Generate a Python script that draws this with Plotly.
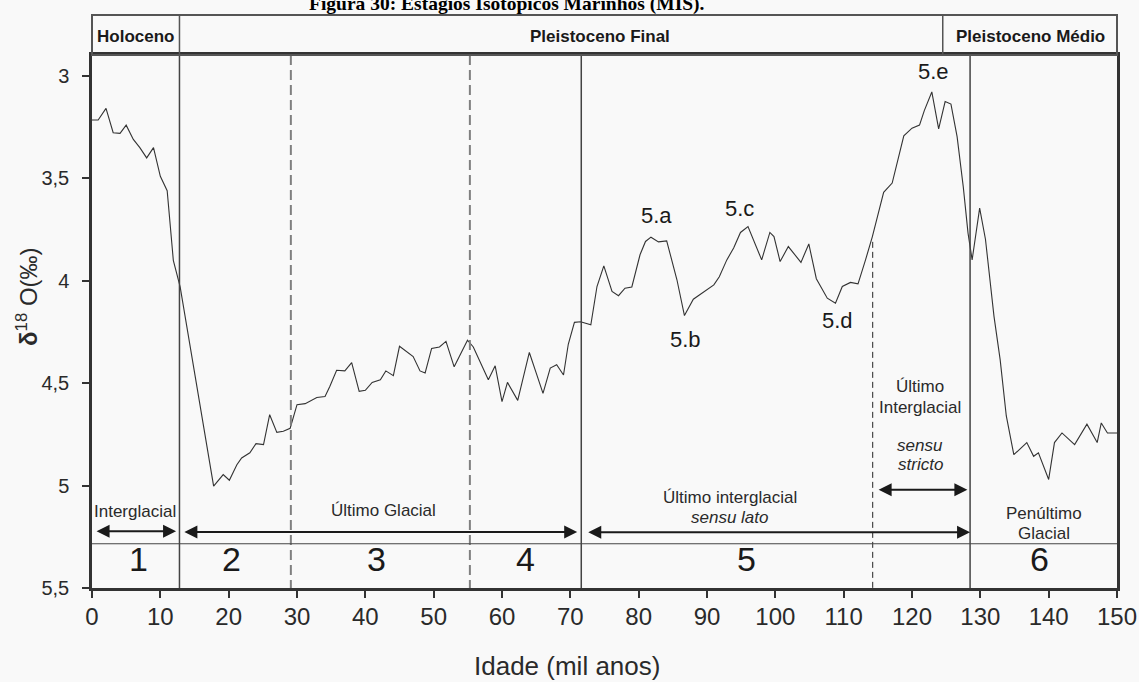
import plotly.graph_objects as go

# ---------------- data ----------------
age = [0, 0.9, 2.05, 3.1, 4.1, 5.0, 6.05, 7.0, 8.0, 9.0, 10.0, 11.0, 11.9, 12.9,
       17.8, 19.2, 20.1, 21.2, 21.9, 23.1, 24.0, 25.1, 26.0, 27.05, 28.0, 29.0,
       30.0, 31.2, 32.9, 34.1, 34.8, 35.8, 37.0, 38.0, 39.1, 40.0, 41.0, 42.2,
       43.0, 44.1, 45.0, 47.0, 48.0, 48.75, 49.7, 50.85, 51.8, 53.0, 54.95, 55.8,
       58.0, 59.0, 60.0, 60.8, 62.3, 64.0, 65.0, 66.0, 67.06, 68.0, 69.0, 69.7,
       70.6, 71.5, 73.0, 73.9, 74.9, 76.1, 77.05, 78.0, 79.0, 80.2, 81.0, 81.8,
       82.9, 84.1, 85.6, 86.7, 88.0, 89.5, 91.0, 91.8, 92.9, 93.9, 94.9, 96.0,
       96.9, 98.0, 99.2, 99.8, 100.7, 101.9, 103.75, 104.9, 106.0, 107.6, 108.8,
       109.8, 111.0, 112.1, 113.2, 114.2, 115.85, 117.1, 118.8, 120.0, 121.1,
       121.8, 122.9, 123.9, 124.85, 125.7, 126.6, 127.5, 128.2, 128.8, 129.9,
       130.75, 132.0, 132.9, 133.8, 134.9, 136.8, 137.8, 138.5, 140.0, 140.85,
       141.95, 143.8, 145.6, 147.1, 147.7, 148.6, 150.0]
d18o = [3.215, 3.215, 3.158, 3.277, 3.28, 3.24, 3.31, 3.35, 3.40, 3.35, 3.49, 3.56, 3.90, 4.03,
        5.003, 4.946, 4.974, 4.898, 4.865, 4.84, 4.795, 4.80, 4.654, 4.74, 4.735, 4.72,
        4.605, 4.60, 4.57, 4.565, 4.516, 4.437, 4.44, 4.40, 4.54, 4.535, 4.496, 4.483,
        4.44, 4.463, 4.32, 4.37, 4.44, 4.45, 4.33, 4.323, 4.296, 4.42, 4.29, 4.323,
        4.483, 4.415, 4.59, 4.496, 4.584, 4.35, 4.45, 4.55, 4.426, 4.41, 4.46, 4.31,
        4.203, 4.20, 4.215, 4.028, 3.927, 4.052, 4.073, 4.036, 4.03, 3.873, 3.808, 3.787,
        3.81, 3.805, 3.995, 4.17, 4.09, 4.057, 4.02, 3.98, 3.898, 3.84, 3.764, 3.735,
        3.808, 3.898, 3.764, 3.784, 3.906, 3.833, 3.91, 3.82, 3.99, 4.085, 4.11,
        4.028, 4.008, 4.015, 3.898, 3.784, 3.568, 3.523, 3.292, 3.255, 3.24,
        3.169, 3.078, 3.258, 3.125, 3.137, 3.296, 3.54, 3.767, 3.898, 3.645,
        3.797, 4.174, 4.385, 4.66, 4.849, 4.79, 4.857, 4.84, 4.97, 4.79,
        4.743, 4.80, 4.70, 4.79, 4.694, 4.743, 4.743]

x_ticks = [0, 10, 20, 30, 40, 50, 60, 70, 80, 90, 100, 110, 120, 130, 140, 150]
y_ticks = [3, 3.5, 4, 4.5, 5, 5.5]
y_ticktext = ["3", "3,5", "4", "4,5", "5", "5,5"]

# MIS stage numbers and their centre ages
stage_labels = ["1", "2", "3", "4", "5", "6"]
stage_centres = [6.8, 20.4, 41.7, 63.4, 95.8, 138.6]

# boundaries (ka)
solid_bounds = [12.8, 71.6, 128.5]
dashed_bounds = [29.1, 55.3]
substage_bound = 114.25

# substage peaks labels
sub_labels = ["5.a", "5.b", "5.c", "5.d", "5.e"]
sub_x = [82.65, 86.8, 94.75, 109.1, 123.2]
sub_y = [3.683, 4.288, 3.649, 4.194, 2.979]

# epochs header
epoch_names = ["Holoceno", "Pleistoceno Final", "Pleistoceno Médio"]
epoch_centres = [6.4, 74.3, 137.4]
epoch_divs = [12.8, 124.5]

TITLE = "Figura 30: Estágios Isotópicos Marinhos (MIS)."

# ---------------- figure ----------------
Y_TOP = 2.8976
Y_BOT = 5.5
W, H = 1139, 682
ML, MR, MT, MB = 92, 22, 55, 94
PH = H - MT - MB
PW = W - ML - MR

FONT = "Liberation Sans, Arial, sans-serif"
TXT = "#2a2a2a"

fig = go.Figure()
fig.add_trace(go.Scatter(x=age, y=d18o, mode="lines",
                         line=dict(color="#333333", width=1.1),
                         hoverinfo="skip", showlegend=False))

shapes = []
for b in solid_bounds:
    shapes.append(dict(type="line", xref="x", yref="y", x0=b, x1=b, y0=Y_TOP, y1=Y_BOT,
                       line=dict(color="#444444", width=1.5)))
for b in dashed_bounds:
    shapes.append(dict(type="line", xref="x", yref="y", x0=b, x1=b, y0=Y_TOP, y1=Y_BOT,
                       line=dict(color="#808080", width=2, dash="10px,5px")))
shapes.append(dict(type="line", xref="x", yref="y", x0=substage_bound, x1=substage_bound,
                   y0=3.81, y1=Y_BOT, line=dict(color="#222222", width=1, dash="6px,4px")))
shapes.append(dict(type="line", xref="x", yref="y", x0=0, x1=150, y0=5.284, y1=5.284,
                   line=dict(color="#444444", width=1.2)))
hdr_top = 1 + 40 / PH
shapes.append(dict(type="rect", xref="paper", yref="paper", x0=0, x1=1, y0=1, y1=hdr_top,
                   line=dict(color="#555555", width=2), fillcolor="rgba(0,0,0,0)"))
for d in epoch_divs:
    shapes.append(dict(type="line", xref="x", yref="paper", x0=d, x1=d, y0=1, y1=hdr_top,
                       line=dict(color="#555555", width=1.5)))

ann = []
for name, c in zip(epoch_names, epoch_centres):
    ann.append(dict(x=c, y=1 + 18 / PH, xref="x", yref="paper", text=f"<b>{name}</b>",
                    showarrow=False, font=dict(family=FONT, size=17, color="#1a1a1a"),
                    xanchor="center", yanchor="middle"))
ann.append(dict(x=(507 - ML) / PW, y=1 + (MT - 4) / PH, xref="paper", yref="paper",
                text=f"<b>{TITLE}</b>", showarrow=False,
                font=dict(family="Liberation Serif, Times New Roman, serif", size=19.5, color="#000"),
                xanchor="center", yanchor="middle"))
for lab, c in zip(stage_labels, stage_centres):
    ann.append(dict(x=c, y=5.36, xref="x", yref="y", text=lab, showarrow=False,
                    font=dict(family=FONT, size=34, color="#1a1a1a"),
                    xanchor="center", yanchor="middle"))
for lab, sx, sy in zip(sub_labels, sub_x, sub_y):
    ann.append(dict(x=sx, y=sy, xref="x", yref="y", text=lab, showarrow=False,
                    font=dict(family=FONT, size=22, color="#1a1a1a"),
                    xanchor="center", yanchor="middle"))

def label(x, y, t, size=17):
    ann.append(dict(x=x, y=y, xref="x", yref="y", text=t, showarrow=False,
                    font=dict(family=FONT, size=size, color=TXT),
                    xanchor="center", yanchor="middle"))

def arrow(x0, x1, y):
    ann.append(dict(x=x1, y=y, ax=x0, ay=y, xref="x", yref="y", axref="x", ayref="y",
                    text="", showarrow=True, arrowhead=2, arrowside="end+start",
                    arrowsize=1.3, arrowwidth=2, arrowcolor="#1a1a1a",
                    standoff=0, startstandoff=0))

label(6.3, 5.125, "Interglacial")
arrow(0.45, 12.3, 5.223)
label(42.6, 5.122, "Último Glacial")
arrow(13.3, 71.0, 5.226)
label(93.4, 5.06, "Último interglacial")
label(93.4, 5.158, "<i>sensu lato</i>")
arrow(72.4, 128.5, 5.228)
label(121.2, 4.516, "Último")
label(121.2, 4.618, "Interglacial")
label(121.2, 4.805, "<i>sensu</i>")
label(121.2, 4.898, "<i>stricto</i>")
arrow(114.9, 128.1, 5.02)
label(139.3, 5.137, "Penúltimo")
label(139.3, 5.234, "Glacial")

ann.append(dict(x=(567 - ML) / PW, y=-(666 - (H - MB)) / PH, xref="paper", yref="paper",
                text="Idade (mil anos)", showarrow=False,
                font=dict(family=FONT, size=26, color=TXT), xanchor="center", yanchor="middle"))
ann.append(dict(x=(27 - ML) / PW, y=((H - MB) - 297) / PH, xref="paper", yref="paper",
                text="<b>δ</b><sup>18</sup> O(‰)", showarrow=False, textangle=-90,
                font=dict(family=FONT, size=24, color=TXT), xanchor="center", yanchor="middle"))

fig.update_layout(
    width=W, height=H,
    margin=dict(l=ML, r=MR, t=MT, b=MB, pad=0),
    paper_bgcolor="#f9f9f9", plot_bgcolor="#f9f9f9",
    shapes=shapes, annotations=ann, showlegend=False,
)
fig.update_xaxes(range=[0, 150], tickvals=x_ticks, ticks="outside", ticklen=7, tickwidth=1.5,
                 tickcolor="#333", showgrid=False, zeroline=False, showline=True,
                 linecolor="#333", linewidth=2.5, mirror=True,
                 tickfont=dict(family=FONT, size=24, color=TXT), ticklabelstandoff=-2,
                 automargin=False)
fig.update_yaxes(range=[Y_BOT, Y_TOP], tickvals=y_ticks, ticktext=y_ticktext, ticks="outside",
                 ticklen=7, tickwidth=1.5, tickcolor="#333", showgrid=False, zeroline=False,
                 showline=True, linecolor="#333", linewidth=2.5, mirror=True,
                 tickfont=dict(family=FONT, size=20, color=TXT), ticklabelstandoff=9,
                 automargin=False)

fig.write_html("out.html", config={"displayModeBar": False},
               post_script="document.body.style.margin='0px';document.body.style.padding='0px';")
